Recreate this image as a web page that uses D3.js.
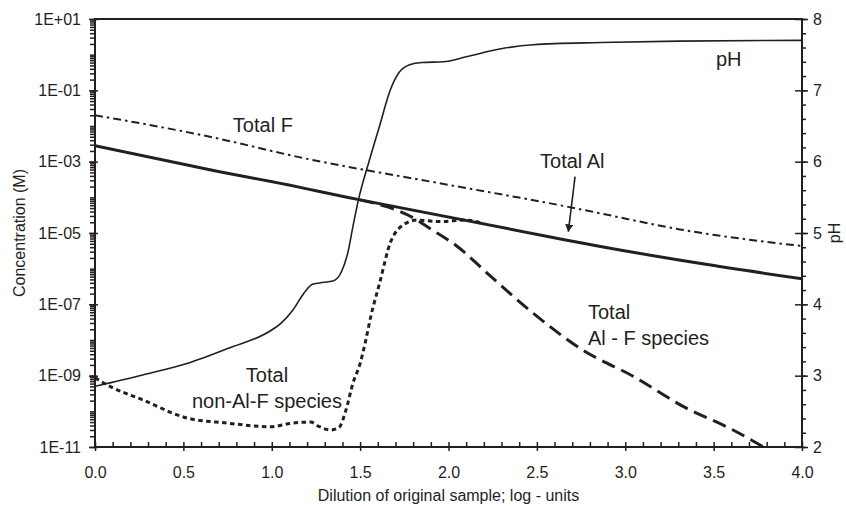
<!DOCTYPE html>
<html>
<head>
<meta charset="utf-8">
<title>Dilution curves</title>
<script src="https://cdn.jsdelivr.net/npm/d3@7"></script>
<style>
  body { margin: 0; background: #fff; }
  text { font-family: "Liberation Sans", Arial, sans-serif; fill: #231f20; }
</style>
</head>
<body>
<svg width="846" height="506" id="mainsvg"></svg>
<script>

// values; x = dilution (log units)
const totalF_x = [0, 0.65, 1.16, 2.0, 2.67, 2.86, 3.31, 4.0];
const totalF   = [2.0e-2, 5.0e-3, 1.32e-3, 2.24e-4, 5.5e-5, 3.55e-5, 1.26e-5, 4.3e-6];

const totalAl_x = [0, 0.65, 1.16, 1.27, 1.5, 2.67, 2.86, 3.42, 4.0];
const totalAl   = [2.8e-3, 5.9e-4, 1.9e-4, 1.45e-4, 8.5e-5, 6.3e-6, 4.2e-6, 1.41e-6, 5.2e-7];

const alF_x = [1.50, 1.65, 1.77, 1.91, 2.05, 2.22, 2.48, 2.76, 3.05, 3.33, 3.61, 3.80];
const alF   = [8.5e-5, 5.5e-5, 3.2e-5, 1.2e-5, 4.2e-6, 7.4e-7, 5.6e-8, 5.2e-9, 9.3e-10, 1.35e-10, 3.0e-11, 8.9e-12];

const nonAlF_x = [0, 0.085, 0.27, 0.52, 0.745, 0.99, 1.12, 1.22, 1.27, 1.33, 1.38, 1.42, 1.46, 1.50, 1.53, 1.56, 1.61, 1.67, 1.73, 1.82, 1.95, 2.10, 2.2];
const nonAlF   = [8.7e-10, 5.0e-10, 2.1e-10, 6.5e-11, 4.7e-11, 3.7e-11, 4.7e-11, 5.0e-11, 3.7e-11, 3.0e-11, 3.5e-11, 1.1e-10, 6.3e-10, 2.2e-9, 8.9e-9, 4.5e-8, 3.9e-7, 5.2e-6, 1.5e-5, 2.3e-5, 2.1e-5, 2.3e-5, 1.8e-5];

const pH_x = [0, 0.27, 0.52, 0.75, 1.0, 1.05, 1.12, 1.18, 1.23, 1.27, 1.35, 1.395, 1.43, 1.46, 1.49, 1.55, 1.61, 1.67, 1.72, 1.78, 1.85, 1.97, 2.10, 2.29, 2.48, 2.86, 3.3, 4.0];
const pH   = [2.85, 3.01, 3.17, 3.38, 3.64, 3.73, 3.92, 4.15, 4.28, 4.30, 4.33, 4.46, 4.72, 5.10, 5.46, 6.0, 6.5, 7.0, 7.25, 7.36, 7.39, 7.40, 7.47, 7.58, 7.64, 7.67, 7.69, 7.70];

// axis ticks
const dilutionTicks = [0, 0.5, 1.0, 1.5, 2.0, 2.5, 3.0, 3.5, 4.0];
const concTicks = [1e-11, 1e-9, 1e-7, 1e-5, 1e-3, 1e-1, 1e1];
const pHTicks = [2, 3, 4, 5, 6, 7, 8];

const ink = '#231f20';
const svg = d3.select('svg');
const pLeft = 95, pRight = 802, pTop = 19, pBottom = 447;

const x = d3.scaleLinear().domain([0, 4]).range([pLeft, pRight]);
const yC = d3.scaleLog().domain([1e-11, 1e1]).range([pBottom, pTop]);
const yP = d3.scaleLinear().domain([2, 8]).range([pBottom, pTop]);

const defs = svg.append('defs');
defs.append('clipPath').attr('id', 'plot')
  .append('rect').attr('x', pLeft).attr('y', pTop).attr('width', pRight - pLeft).attr('height', pBottom - pTop);
defs.append('marker').attr('id', 'arrow')
  .attr('viewBox', '0 0 10 10').attr('refX', 9).attr('refY', 5)
  .attr('markerWidth', 8).attr('markerHeight', 8).attr('markerUnits', 'userSpaceOnUse')
  .attr('orient', 'auto')
  .append('path').attr('d', 'M0,0L10,5L0,10z').attr('fill', ink);

function fmtE(v) {
  const e = Math.round(Math.log10(v));
  return '1E' + (e < 0 ? '-' : '+') + String(Math.abs(e)).padStart(2, '0');
}
function tidy(g) {
  g.select('.domain').remove();
  g.selectAll('line').attr('stroke', ink).attr('stroke-width', 1.5);
  g.selectAll('text').attr('font-size', 16).attr('fill', ink);
}

// minor tick values
const concMinor = [];
for (let e = -11; e < 1; e++) for (let m = 1; m < 10; m++) concMinor.push(m * Math.pow(10, e));
concMinor.push(10);
const dilMinor = d3.range(0, 41).map(i => i / 10);
const pHMinor = d3.range(10, 41).map(i => i / 5);

// left axis
svg.append('g').attr('transform', `translate(${pLeft},0)`)
  .call(d3.axisLeft(yC).tickValues(concMinor).tickSize(5).tickFormat('')).call(tidy);
svg.append('g').attr('transform', `translate(${pLeft},0)`)
  .call(d3.axisLeft(yC).tickValues(concTicks).tickSize(6).tickPadding(8).tickFormat(fmtE)).call(tidy);
svg.append('g').attr('transform', `translate(${pLeft},0)`)
  .call(d3.axisRight(yC).tickValues(concTicks).tickSize(3).tickFormat('')).call(tidy);

// bottom axis
svg.append('g').attr('transform', `translate(0,${pBottom})`)
  .call(d3.axisTop(x).tickValues(dilMinor).tickSize(5).tickFormat('')).call(tidy);
svg.append('g').attr('transform', `translate(0,${pBottom})`)
  .call(d3.axisBottom(x).tickValues(dilutionTicks).tickSize(4).tickPadding(16).tickFormat(d3.format('.1f'))).call(tidy);

// right axis
svg.append('g').attr('transform', `translate(${pRight},0)`)
  .call(d3.axisRight(yP).tickValues(pHMinor).tickSize(4).tickFormat('')).call(tidy);
svg.append('g').attr('transform', `translate(${pRight},0)`)
  .call(d3.axisRight(yP).tickValues(pHTicks).tickSize(6).tickPadding(5).tickFormat(d3.format('d'))).call(tidy);
svg.append('g').attr('transform', `translate(${pRight},0)`)
  .call(d3.axisLeft(yP).tickValues(pHTicks).tickSize(7).tickFormat('')).call(tidy);

// frame
svg.append('rect').attr('x', pLeft).attr('y', pTop).attr('width', pRight - pLeft).attr('height', pBottom - pTop)
  .attr('fill', 'none').attr('stroke', ink).attr('stroke-width', 2);

// axis titles
svg.append('text').attr('transform', `translate(25,${(pTop + pBottom) / 2}) rotate(-90)`)
  .attr('text-anchor', 'middle').attr('font-size', 16).text('Concentration (M)');
svg.append('text').attr('transform', `translate(840,${(pTop + pBottom) / 2}) rotate(-90)`)
  .attr('text-anchor', 'middle').attr('font-size', 16).text('pH');
svg.append('text').attr('x', (pLeft + pRight) / 2).attr('y', 501)
  .attr('text-anchor', 'middle').attr('font-size', 16).text('Dilution of original sample; log - units');

// curves
const lineC = d3.line().x(d => x(d[0])).y(d => yC(d[1])).curve(d3.curveMonotoneX);
const lineP = d3.line().x(d => x(d[0])).y(d => yP(d[1])).curve(d3.curveMonotoneX);
const plot = svg.append('g').attr('clip-path', 'url(#plot)');

plot.append('path').datum(d3.zip(totalF_x, totalF)).attr('d', lineC)
  .attr('fill', 'none').attr('stroke', ink).attr('stroke-width', 2).attr('stroke-dasharray', '8,4,2.5,4');
plot.append('path').datum(d3.zip(alF_x, alF)).attr('d', lineC)
  .attr('fill', 'none').attr('stroke', ink).attr('stroke-width', 3).attr('stroke-dasharray', '14,7');
plot.append('path').datum(d3.zip(nonAlF_x, nonAlF)).attr('d', lineC)
  .attr('fill', 'none').attr('stroke', ink).attr('stroke-width', 3).attr('stroke-dasharray', '4.5,3.5');
plot.append('path').datum(d3.zip(totalAl_x, totalAl)).attr('d', lineC)
  .attr('fill', 'none').attr('stroke', ink).attr('stroke-width', 3);
plot.append('path').datum(d3.zip(pH_x, pH)).attr('d', lineP)
  .attr('fill', 'none').attr('stroke', ink).attr('stroke-width', 1.6);

// annotations
const note = (tx, ty, s, anchor) => svg.append('text').attr('x', tx).attr('y', ty)
  .attr('font-size', 20).attr('text-anchor', anchor || 'start').text(s);
note(x(3.513), yP(7.34), 'pH');
note(x(0.78), yC(6.8e-3), 'Total F');
note(x(2.518), yC(6.5e-4), 'Total Al');
note(x(2.789), yC(3.8e-8), 'Total');
note(x(2.789), yC(7.2e-9), 'Al - F species');
note(x(0.973), yC(6.8e-10), 'Total', 'middle');
note(x(0.973), yC(1.24e-10), 'non-Al-F species', 'middle');

svg.append('line')
  .attr('x1', x(2.716)).attr('y1', yC(3.8e-4))
  .attr('x2', x(2.678)).attr('y2', yC(1.1e-5))
  .attr('stroke', ink).attr('stroke-width', 1.6).attr('marker-end', 'url(#arrow)');

</script>
</body>
</html>
